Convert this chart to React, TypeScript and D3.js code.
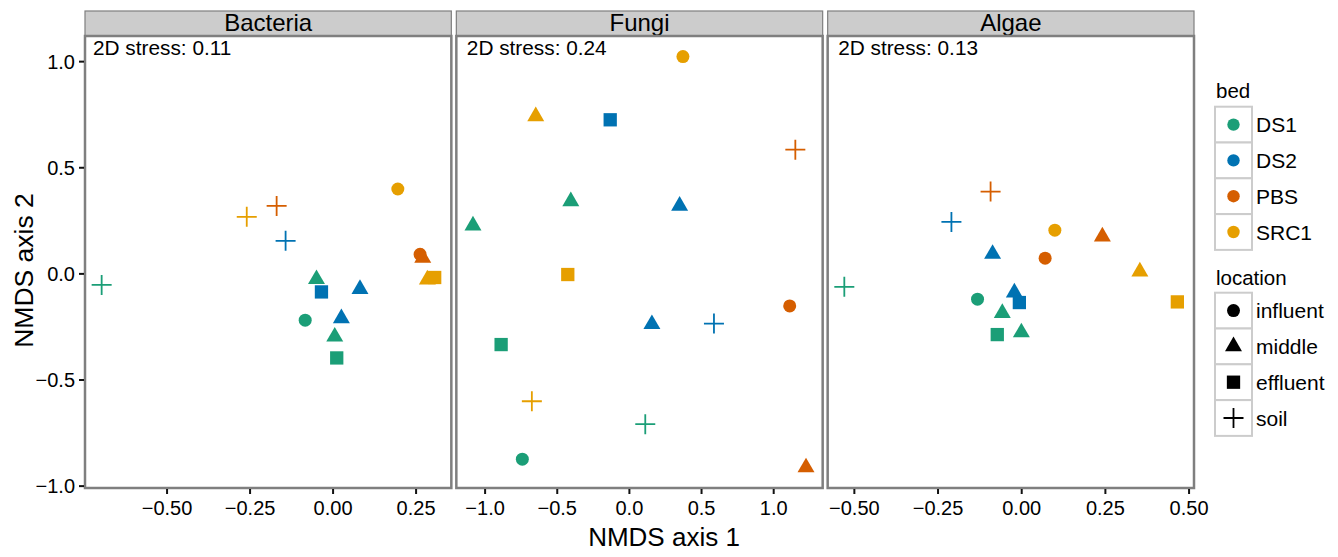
import * as d3 from 'd3'

const WIDTH = 1338
const HEIGHT = 557
const FONT = '"Liberation Sans", Arial, Helvetica, sans-serif'

const BEDS = ['DS1', 'DS2', 'PBS', 'SRC1']
const BED_COLORS = ['#1B9E77', '#0072B2', '#D55E00', '#E69F00']
const LOCATIONS = ['influent', 'middle', 'effluent', 'soil']

const PANELS = ['Bacteria', 'Fungi', 'Algae']
const STRESS = ['0.11', '0.24', '0.13']
const X_TICKS = [
  [-0.5, -0.25, 0, 0.25],
  [-1, -0.5, 0, 0.5, 1],
  [-0.5, -0.25, 0, 0.25, 0.5],
]
const X_TICK_FORMAT = ['.2f', '.1f', '.2f']
const Y_TICKS = [-1, -0.5, 0, 0.5, 1]

type Pt = [string, string, number, number]

// [bed, location, NMDS1, NMDS2]
const BACTERIA: Pt[] = [
  ['DS1', 'soil', -0.697, -0.052],
  ['SRC1', 'soil', -0.26, 0.269],
  ['PBS', 'soil', -0.17, 0.32],
  ['DS2', 'soil', -0.143, 0.156],
  ['SRC1', 'influent', 0.195, 0.4],
  ['PBS', 'influent', 0.262, 0.092],
  ['PBS', 'middle', 0.27, 0.075],
  ['SRC1', 'middle', 0.284, -0.027],
  ['SRC1', 'effluent', 0.306, -0.017],
  ['DS1', 'middle', -0.05, -0.025],
  ['DS2', 'effluent', -0.035, -0.085],
  ['DS2', 'middle', 0.081, -0.072],
  ['DS1', 'influent', -0.084, -0.218],
  ['DS2', 'middle', 0.025, -0.209],
  ['DS1', 'middle', 0.005, -0.296],
  ['DS1', 'effluent', 0.011, -0.396],
]

const FUNGI: Pt[] = [
  ['SRC1', 'influent', 0.371, 1.024],
  ['SRC1', 'middle', -0.649, 0.742],
  ['DS2', 'effluent', -0.133, 0.726],
  ['PBS', 'soil', 1.15, 0.585],
  ['DS1', 'middle', -0.406, 0.342],
  ['DS2', 'middle', 0.348, 0.321],
  ['DS1', 'middle', -1.084, 0.228],
  ['SRC1', 'effluent', -0.427, -0.003],
  ['PBS', 'influent', 1.111, -0.151],
  ['DS2', 'middle', 0.156, -0.237],
  ['DS2', 'soil', 0.586, -0.234],
  ['DS1', 'effluent', -0.889, -0.333],
  ['SRC1', 'soil', -0.676, -0.6],
  ['DS1', 'soil', 0.11, -0.708],
  ['DS1', 'influent', -0.742, -0.873],
  ['PBS', 'middle', 1.224, -0.912],
]

const ALGAE: Pt[] = [
  ['PBS', 'soil', -0.093, 0.388],
  ['DS2', 'soil', -0.21, 0.245],
  ['SRC1', 'influent', 0.099, 0.206],
  ['PBS', 'middle', 0.241, 0.176],
  ['DS2', 'middle', -0.087, 0.094],
  ['PBS', 'influent', 0.07, 0.074],
  ['SRC1', 'middle', 0.353, 0.011],
  ['DS1', 'soil', -0.53, -0.061],
  ['SRC1', 'effluent', 0.465, -0.132],
  ['DS1', 'influent', -0.132, -0.119],
  ['DS2', 'middle', -0.022, -0.088],
  ['DS2', 'effluent', -0.007, -0.135],
  ['DS1', 'middle', -0.058, -0.185],
  ['DS1', 'effluent', -0.073, -0.286],
  ['DS1', 'middle', -0.001, -0.276],
]

const PANEL_DATA = [BACTERIA, FUNGI, ALGAE]

// layout
const PLOT_LEFT = 85
const PLOT_RIGHT = 1194
const PANEL_GAP = 5
const PANEL_TOP = 36
const PANEL_BOTTOM = 488
const STRIP_TOP = 11
const panelW = (PLOT_RIGHT - PLOT_LEFT - PANEL_GAP * 2) / 3

const color = d3.scaleOrdinal<string, string>().domain(BEDS).range(BED_COLORS)

// ggplot-like 5% expansion
const expand = (ext: [number, number]): [number, number] => {
  const pad = (ext[1] - ext[0]) * 0.05
  return [ext[0] - pad, ext[1] + pad]
}

const allY = PANEL_DATA.flat().map(d => d[3])
const yScale = d3.scaleLinear()
  .domain(expand(d3.extent(allY) as [number, number]))
  .range([PANEL_BOTTOM, PANEL_TOP])

const symbolPath = {
  influent: d3.symbol().type(d3.symbolCircle).size(Math.PI * 6.5 * 6.5)()!,
  middle: d3.symbol().type(d3.symbolTriangle).size(125)()!,
  effluent: d3.symbol().type(d3.symbolSquare).size(13.3 * 13.3)()!,
}

function Marker({ shape, x, y, fill }: { shape: string, x: number, y: number, fill: string }) {
  if (shape === 'soil') {
    return (
      <path
        d="M-10,0H10M0,-10V10"
        transform={`translate(${x},${y})`}
        stroke={fill}
        strokeWidth={1.8}
        fill="none"
      />
    )
  }
  return <path d={symbolPath[shape as keyof typeof symbolPath]} transform={`translate(${x},${y})`} fill={fill} />
}

function Panel({ index }: { index: number }) {
  const data = PANEL_DATA[index]
  const x0 = PLOT_LEFT + index * (panelW + PANEL_GAP)
  const xScale = d3.scaleLinear()
    .domain(expand(d3.extent(data, d => d[2]) as [number, number]))
    .range([x0, x0 + panelW])
  const fmt = d3.format(X_TICK_FORMAT[index])

  return (
    <g>
      {/* strip */}
      <rect x={x0} y={STRIP_TOP} width={panelW} height={PANEL_TOP - STRIP_TOP}
        fill="#cccccc" stroke="#7f7f7f" strokeWidth={1.2} />
      <text x={x0 + panelW / 2} y={31} textAnchor="middle" fontSize={24} fill="#000">
        {PANELS[index]}
      </text>

      {/* panel */}
      <rect x={x0} y={PANEL_TOP} width={panelW} height={PANEL_BOTTOM - PANEL_TOP} fill="#fff" />

      <text x={x0 + (index === 0 ? 8 : 10.5)} y={55} fontSize={20.8} fill="#000">
        {`2D stress: ${STRESS[index]}`}
      </text>

      {data.map((d, i) => (
        <Marker key={i} shape={d[1]} x={xScale(d[2])} y={yScale(d[3])} fill={color(d[0])} />
      ))}

      <rect x={x0} y={PANEL_TOP} width={panelW} height={PANEL_BOTTOM - PANEL_TOP}
        fill="none" stroke="#7f7f7f" strokeWidth={2.5} />

      {/* x axis */}
      {X_TICKS[index].map(t => (
        <g key={t}>
          <line x1={xScale(t)} x2={xScale(t)} y1={PANEL_BOTTOM + 1} y2={PANEL_BOTTOM + 6} stroke="#111" strokeWidth={2} />
          <text x={xScale(t)} y={515} textAnchor="middle" fontSize={20} fill="#000">
            {fmt(t)}
          </text>
        </g>
      ))}
    </g>
  )
}

function Legend() {
  const keyX = 1215
  const keyW = 37
  const keyH = 35.8
  const bedTop = 106.7
  const locTop = 292.7
  return (
    <g>
      <text x={1216} y={98} fontSize={20.5} fill="#000">bed</text>
      {BEDS.map((b, i) => (
        <g key={b}>
          <rect x={keyX} y={bedTop + i * keyH} width={keyW} height={keyH} fill="#fff" stroke="#cccccc" strokeWidth={2} />
          <circle cx={keyX + keyW / 2} cy={bedTop + i * keyH + keyH / 2} r={6.2} fill={color(b)} />
          <text x={1256} y={bedTop + i * keyH + keyH / 2} dy="0.36em" fontSize={21} fill="#000">{b}</text>
        </g>
      ))}
      <text x={1216} y={285} fontSize={20.5} fill="#000">location</text>
      {LOCATIONS.map((l, i) => (
        <g key={l}>
          <rect x={keyX} y={locTop + i * keyH} width={keyW} height={keyH} fill="#fff" stroke="#cccccc" strokeWidth={2} />
          <Marker shape={l} x={keyX + keyW / 2} y={locTop + i * keyH + keyH / 2} fill="#000" />
          <text x={1256} y={locTop + i * keyH + keyH / 2} dy="0.36em" fontSize={21} fill="#000">{l}</text>
        </g>
      ))}
    </g>
  )
}

export default function App() {
  const yFmt = d3.format('.1f')
  return (
    <svg width={WIDTH} height={HEIGHT} fontFamily={FONT}
      style={{ position: 'absolute', left: 0, top: 0, background: '#fff' }}>
      <rect width={WIDTH} height={HEIGHT} fill="#fff" />

      {PANELS.map((p, i) => <Panel key={p} index={i} />)}

      {/* y axis */}
      {Y_TICKS.map(t => (
        <g key={t}>
          <line x1={PLOT_LEFT - 6} x2={PLOT_LEFT - 1} y1={yScale(t)} y2={yScale(t)} stroke="#111" strokeWidth={2} />
          <text x={75} y={yScale(t)} dy="0.36em" textAnchor="end" fontSize={20} fill="#000">
            {yFmt(t)}
          </text>
        </g>
      ))}

      <text x={664} y={546} textAnchor="middle" fontSize={26} fill="#000">NMDS axis 1</text>
      <text transform="translate(33,270.5) rotate(-90)" textAnchor="middle" fontSize={26.5} fill="#000">
        NMDS axis 2
      </text>

      <Legend />
    </svg>
  )
}
